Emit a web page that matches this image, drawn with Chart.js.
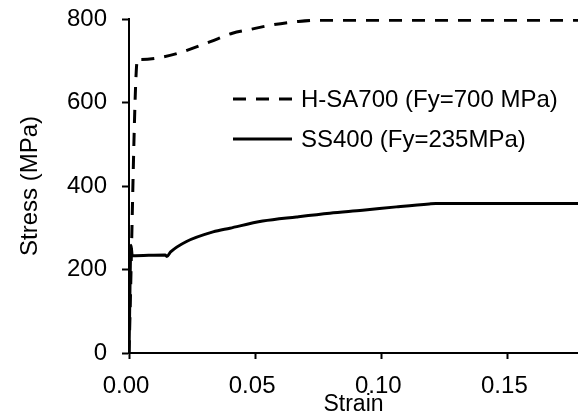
<!DOCTYPE html>
<html>
<head>
<meta charset="utf-8">
<script src="https://cdn.jsdelivr.net/npm/chart.js@4/dist/chart.umd.min.js"></script>
<style>
  html, body { margin: 0; padding: 0; background: #fff; }
  #wrap { width: 578px; height: 416px; }
</style>
</head>
<body>
<div id="wrap"><canvas id="c" width="578" height="416"></canvas></div>
<script>
// Stress–strain curves of two steel grades
const strainHSA = [0, 0.0034, 0.0045, 0.0135, 0.021, 0.032, 0.041, 0.048, 0.057, 0.067, 0.0744, 0.178];
const stressHSA = [0, 706, 703, 709, 721, 745, 766, 775, 786, 794, 797, 797];

const strainSS = [0, 0.0008, 0.0013, 0.0143, 0.0150, 0.0165, 0.0228, 0.0333, 0.040, 0.053, 0.0664, 0.0796, 0.0926, 0.106, 0.119, 0.1216, 0.178];
const stressSS = [0, 258, 233, 235, 231, 242, 267, 290, 299, 316, 326, 335, 342, 350, 357, 358, 358];

const seriesNames = ['H-SA700 (Fy=700 MPa)', 'SS400 (Fy=235MPa)'];
const xTicks = [0, 0.05, 0.10, 0.15];
const yTicks = [0, 200, 400, 600, 800];

const FONT = '"Liberation Sans", Arial, sans-serif';
const FSIZE = 24;

function toPoints(xs, ys) {
  return xs.map((x, i) => ({ x: x, y: ys[i] }));
}

// Legend drawn inside the plot area
const innerLegend = {
  id: 'innerLegend',
  afterDatasetsDraw(chart) {
    const ctx = chart.ctx;
    const rows = [
      { dash: [13, 10], lineY: 99, textY: 107 },
      { dash: [], lineY: 139, textY: 147 }
    ];
    ctx.save();
    ctx.strokeStyle = '#000';
    ctx.fillStyle = '#000';
    ctx.lineWidth = 3;
    ctx.font = FSIZE + 'px ' + FONT;
    ctx.textBaseline = 'alphabetic';
    rows.forEach((r, i) => {
      ctx.setLineDash(r.dash);
      ctx.beginPath();
      ctx.moveTo(233, r.lineY);
      ctx.lineTo(292, r.lineY);
      ctx.stroke();
      ctx.setLineDash([]);
      ctx.fillText(seriesNames[i], 301, r.textY);
    });
    ctx.restore();
  }
};

new Chart(document.getElementById('c'), {
  type: 'scatter',
  data: {
    datasets: [
      {
        label: seriesNames[0],
        data: toPoints(strainHSA, stressHSA),
        showLine: true,
        borderColor: '#000',
        borderWidth: 3,
        borderDash: [13, 10],
        pointRadius: 0,
        cubicInterpolationMode: 'monotone'
      },
      {
        label: seriesNames[1],
        data: toPoints(strainSS, stressSS),
        showLine: true,
        borderColor: '#000',
        borderWidth: 3,
        pointRadius: 0,
        cubicInterpolationMode: 'monotone'
      }
    ]
  },
  options: {
    responsive: false,
    animation: false,
    layout: { padding: { top: 19, right: 0, left: 0, bottom: 0 } },
    plugins: {
      legend: { display: false },
      tooltip: { enabled: false }
    },
    scales: {
      x: {
        type: 'linear',
        min: 0,
        max: 0.178,
        afterFit(scale) {
          scale.height = 63;
          scale.paddingLeft = 0; scale.paddingRight = 0;
          scale.paddingTop = 0; scale.paddingBottom = 0;
        },
        afterBuildTicks(scale) { scale.ticks = xTicks.map(v => ({ value: v })); },
        ticks: {
          color: '#000',
          font: { family: FONT, size: FSIZE },
          padding: 13,
          labelOffset: -3,
          maxRotation: 0,
          callback: v => Number(v).toFixed(2)
        },
        grid: { drawOnChartArea: false, drawTicks: true, tickLength: 6, tickWidth: 2, tickColor: '#000' },
        border: { display: true, color: '#000', width: 2 },
        title: {
          display: true,
          text: 'Strain',
          color: '#000',
          font: { family: FONT, size: 23, lineHeight: 1 },
          padding: { top: 0, bottom: 0 }
        }
      },
      y: {
        min: 0,
        max: 800,
        afterFit(scale) {
          scale.width = 129;
          scale.paddingTop = 0; scale.paddingBottom = 0;
          scale.paddingLeft = 0; scale.paddingRight = 0;
        },
        afterBuildTicks(scale) { scale.ticks = yTicks.map(v => ({ value: v })); },
        ticks: {
          color: '#000',
          font: { family: FONT, size: FSIZE },
          padding: 15
        },
        grid: { drawOnChartArea: false, drawTicks: true, tickLength: 7, tickWidth: 2, tickColor: '#000' },
        border: { display: true, color: '#000', width: 2 },
        title: {
          display: true,
          text: 'Stress (MPa)',
          color: '#000',
          font: { family: FONT, size: FSIZE, lineHeight: 1 },
          padding: { top: 18, bottom: 0 }
        }
      }
    }
  },
  plugins: [innerLegend]
});
</script>
</body>
</html>
